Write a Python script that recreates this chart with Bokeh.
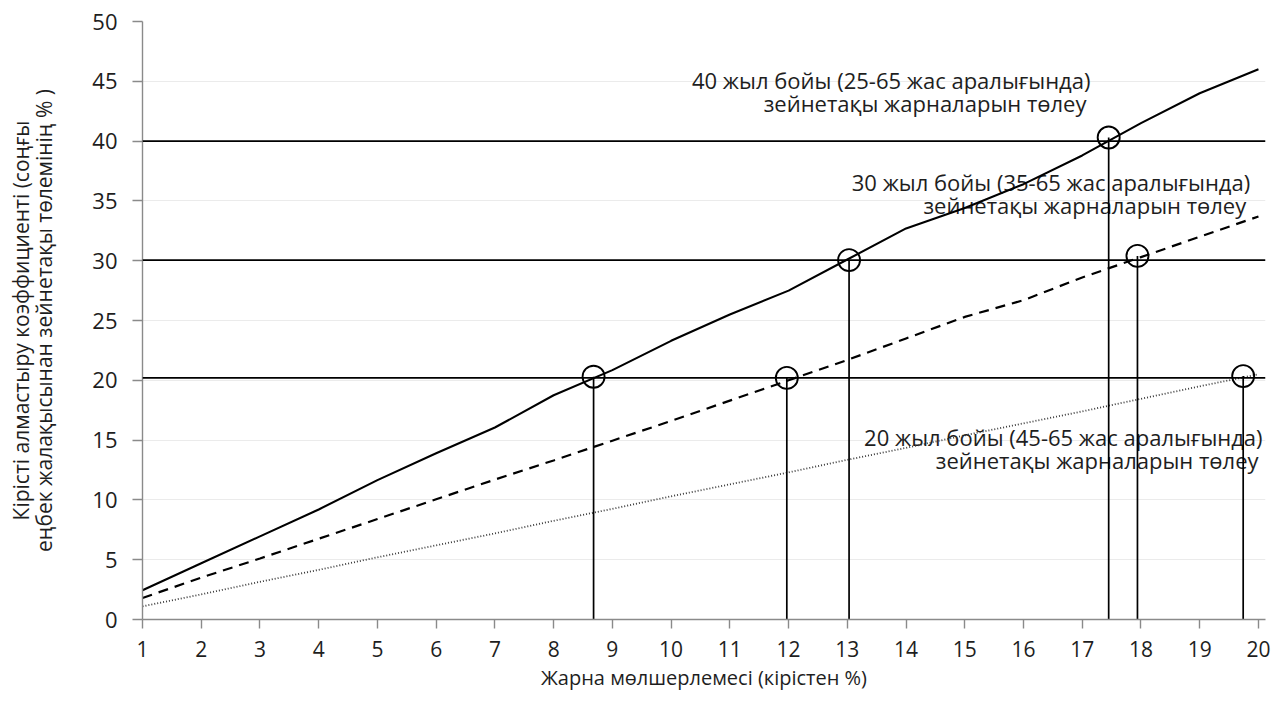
from bokeh.plotting import figure
from bokeh.models import Range1d, Span, Label, FixedTicker
from bokeh.embed import file_html
from bokeh.resources import INLINE

# ---- data ----
rate = list(range(1, 21))
years40 = [2.45, 4.7, 6.95, 9.2, 11.65, 13.9, 16.05, 18.75, 20.85, 23.3,
           25.5, 27.5, 30.1, 32.7, 34.4, 36.4, 38.8, 41.5, 44.0, 46.0]
years30 = [1.8, 3.5, 5.1, 6.75, 8.4, 10.05, 11.7, 13.3, 14.95, 16.6,
           18.3, 20.0, 21.7, 23.5, 25.3, 26.7, 28.6, 30.3, 32.0, 33.7]
years20 = [1.1, 2.1, 3.15, 4.15, 5.2, 6.2, 7.2, 8.25, 9.25, 10.3,
           11.3, 12.3, 13.35, 14.35, 15.4, 16.4, 17.4, 18.45, 19.5, 20.5]
target_levels = [20.2, 30.05, 40.0]
cross_x = [8.68, 11.97, 13.03, 17.45, 17.94, 19.74]
cross_y = [20.3, 20.2, 30.05, 40.3, 30.4, 20.35]
label40 = ["40 жыл бойы (25-65 жас аралығында)", "зейнетақы жарналарын төлеу"]
label30 = ["30 жыл бойы (35-65 жас аралығында)", "зейнетақы жарналарын төлеу"]
label20 = ["20 жыл бойы (45-65 жас аралығында)", "зейнетақы жарналарын төлеу"]
x_title = "Жарна мөлшерлемесі (кірістен %)"
y_title = "Кірісті алмастыру коэффициенті (соңғы\nеңбек жалақысынан зейнетақы төлемінің % )"

FONT = "Open Sans"
TXT = "#1e1e1e"

p = figure(width=1275, height=694, output_backend="svg", toolbar_location=None,
           x_range=Range1d(1, 20.12), y_range=Range1d(0, 50),
           min_border_left=142, min_border_right=10, min_border_top=21,
           min_border_bottom=75)
p.outline_line_color = None
p.background_fill_color = "white"
p.border_fill_color = "white"

# grid
p.xgrid.visible = False
p.ygrid.grid_line_color = "#ebebeb"
p.ygrid.grid_line_width = 1

# axes
p.xaxis.ticker = FixedTicker(ticks=rate)
p.yaxis.ticker = FixedTicker(ticks=list(range(0, 51, 5)))
for ax in (p.xaxis[0], p.yaxis[0]):
    ax.axis_line_color = "#8a8a8a"
    ax.axis_line_width = 1.4
    ax.major_tick_line_color = "#8a8a8a"
    ax.major_tick_line_width = 1.4
    ax.major_tick_in = 0
    ax.minor_tick_line_color = None
    ax.major_label_text_font = FONT
    ax.major_label_text_color = TXT
    ax.axis_label_text_font = FONT
    ax.axis_label_text_font_style = "normal"
    ax.axis_label_text_color = TXT
p.xaxis.major_tick_out = 9
p.yaxis.major_tick_out = 10
p.xaxis.major_label_text_font_size = "21px"
p.yaxis.major_label_text_font_size = "22px"
p.xaxis.major_label_standoff = 12
p.yaxis.major_label_standoff = 15
p.xaxis.axis_label = x_title
p.xaxis.axis_label_text_font_size = "20px"
p.xaxis.axis_label_standoff = 4
p.yaxis.axis_label = y_title
p.yaxis.axis_label_text_font_size = "21px"
p.yaxis.axis_label_standoff = 31
p.yaxis.axis_label_text_line_height = 0.85

# annotation texts: white boxes first (behind the lines, above the grid), then texts
groups = [(label40, 17.14, 45.1), (label30, 19.86, 36.6), (label20, 20.07, 15.26)]
for with_box in (True, False):
    for lines, x, y in groups:
        for i, t in enumerate(lines):
            kw = dict(x=x, y=y, text=t, text_align="right", text_baseline="middle",
                      text_font=FONT, text_font_size="22px", text_color=TXT,
                      y_offset=-23 * i, x_offset=-4 * i, level="underlay")
            if with_box:
                kw.update(text_alpha=0.0, background_fill_color="white",
                          background_fill_alpha=1.0, padding=5)
            p.add_layout(Label(**kw))

# curves
p.line(rate, years40, line_color="black", line_width=2.1)
p.line(rate, years30, line_color="black", line_width=2.2, line_dash="10 7")
p.line(rate, years20, line_color="#3a3a3a", line_width=1.8, line_dash="1 2")

# target levels
for lv in target_levels:
    p.add_layout(Span(location=lv, dimension="width", line_color="black",
                      line_width=1.7))

# drop lines and circles
p.segment(x0=cross_x, y0=[0] * len(cross_x), x1=cross_x, y1=cross_y,
          line_color="black", line_width=1.7)
p.scatter(cross_x, cross_y, marker="circle", size=22, fill_color=None,
          line_color="black", line_width=1.9)

open("out.html", "w").write(file_html(p, INLINE))
